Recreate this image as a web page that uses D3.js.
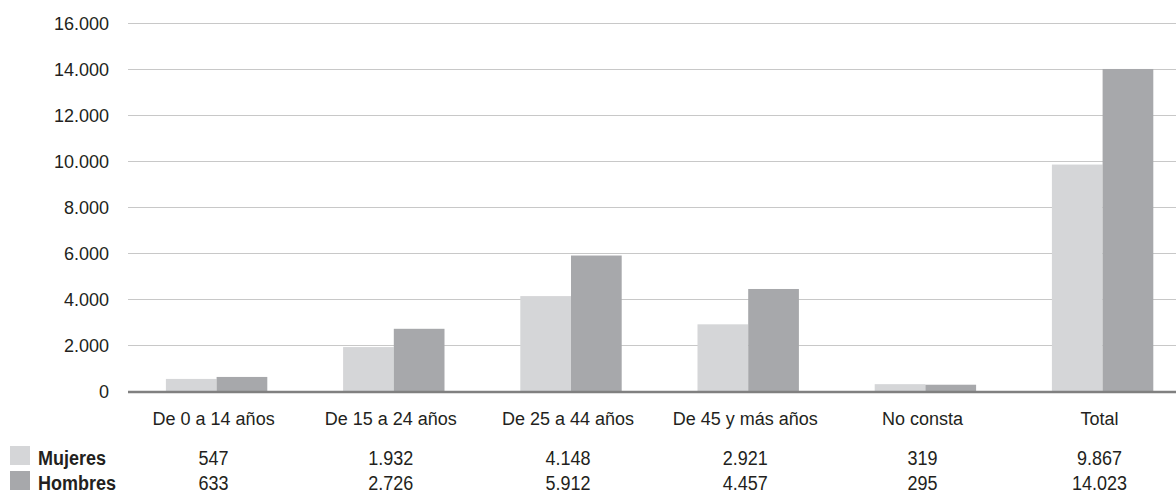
<!DOCTYPE html>
<html>
<head>
<meta charset="utf-8">
<script src="https://cdn.jsdelivr.net/npm/d3@7"></script>
<style>
  html, body { margin: 0; padding: 0; background: #fff; }
  svg { display: block; font-family: "Liberation Sans", Arial, sans-serif; }
</style>
</head>
<body>
<svg id="chart" width="1176" height="493"></svg>
<script>
const categories = ["De 0 a 14 años", "De 15 a 24 años", "De 25 a 44 años", "De 45 y más años", "No consta", "Total"];
const seriesNames = ["Mujeres", "Hombres"];
const mujeres = [547, 1932, 4148, 2921, 319, 9867];
const hombres = [633, 2726, 5912, 4457, 295, 14023];
const yTicks = [0, 2000, 4000, 6000, 8000, 10000, 12000, 14000, 16000];
const colors = ["#d5d6d8", "#a7a8ab"];

const locale = d3.formatLocale({decimal: ",", thousands: ".", grouping: [3], currency: ["", " €"]});
const fmt = locale.format(",d");

const svg = d3.select("#chart");
const W = 1176;
const left = 128, step = 177.2;
const x = d3.scaleBand().domain(categories).range([left, left + step * categories.length]).padding(0);
const xs = d3.scaleBand().domain(seriesNames).range([0, x.bandwidth()]).paddingInner(0).paddingOuter(0.7475);
const y = d3.scaleLinear().domain([0, 16000]).range([391.5, 23.5]);
const textColor = "#231f20";

// gridlines
svg.append("g").selectAll("line").data(yTicks.filter(d => d > 0)).join("line")
  .attr("x1", left).attr("x2", W)
  .attr("y1", d => y(d)).attr("y2", d => y(d))
  .attr("stroke", "#c8c8c8").attr("stroke-width", 1.2);

// y axis labels
const yAxis = d3.axisLeft(y).tickValues(yTicks).tickFormat(fmt).tickSize(0).tickPadding(0);
const ya = svg.append("g").attr("transform", `translate(109,0)`).call(yAxis);
ya.select(".domain").remove();
ya.selectAll("text").attr("font-size", 18).attr("fill", textColor)
  .attr("font-family", "'Liberation Sans', Arial, sans-serif");

// bars
const series = [mujeres, hombres];
const groups = svg.append("g").selectAll("g").data(categories).join("g")
  .attr("transform", d => `translate(${x(d)},0)`);
groups.selectAll("rect").data((d, i) => seriesNames.map((s, j) => ({s, v: series[j][i], j})))
  .join("rect")
  .attr("x", d => xs(d.s))
  .attr("width", xs.bandwidth())
  .attr("y", d => y(d.v))
  .attr("height", d => y(0) - y(d.v))
  .attr("fill", d => colors[d.j]);

// zero axis line
svg.append("line").attr("x1", left).attr("x2", W).attr("y1", y(0) + 0.5).attr("y2", y(0) + 0.5)
  .attr("stroke", "#808080").attr("stroke-width", 2.5);

// category labels
const xAxis = d3.axisBottom(x).tickSize(0).tickPadding(0);
const xa = svg.append("g").attr("transform", `translate(-3,0)`).call(xAxis);
xa.select(".domain").remove();
xa.selectAll(".tick text").attr("y", 425).attr("dy", null)
  .attr("font-size", 18).attr("fill", textColor)
  .attr("font-family", "'Liberation Sans', Arial, sans-serif");

// data table
const rowsY = [465, 490];
seriesNames.forEach((s, j) => {
  const gy = rowsY[j];
  svg.append("rect").attr("x", 10).attr("y", gy - 19).attr("width", 20).attr("height", 19).attr("fill", colors[j]);
  svg.append("text").attr("transform", `translate(38,${gy}) scale(1,1.1)`)
    .attr("font-size", 18).attr("font-weight", "bold").attr("fill", textColor).text(s);
  svg.append("g").selectAll("text").data(categories).join("text")
    .attr("transform", (d) => `translate(${x(d) + x.bandwidth() / 2 - 3},${gy}) scale(1,1.1)`)
    .attr("text-anchor", "middle").attr("font-size", 18).attr("fill", textColor)
    .text((d, i) => fmt(series[j][i]));
});
</script>
</body>
</html>
